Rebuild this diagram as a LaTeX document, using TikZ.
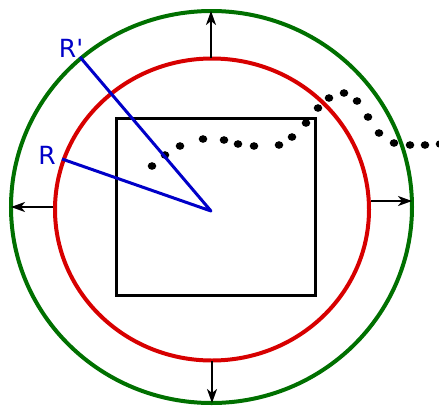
\documentclass[tikz,border=0pt]{standalone}
\usepackage{fontspec}
\setmainfont{DejaVu Sans}
\newfontfamily\lblfont{DejaVu Sans}[Ligatures=TeXOff]
\usetikzlibrary{arrows.meta}
\definecolor{cgreen}{RGB}{0,112,0}
\definecolor{cred}{RGB}{215,0,0}
\definecolor{cblue}{RGB}{0,0,200}
\begin{document}
\begin{tikzpicture}[x=1pt,y=-1pt,
  outer/.style={draw=cgreen,line width=4pt},
  inner/.style={draw=cred,line width=4pt},
  box/.style={draw=black,line width=3pt},
  radius line/.style={draw=cblue,line width=3pt},
  growarrow/.style={draw=black,line width=2pt,-{Stealth[length=14pt,width=10pt,inset=4pt]}},
  dotpt/.style={fill=black},
  lbl/.style={text=cblue,font=\lblfont\fontsize{25}{27}\selectfont,inner sep=0pt}]
\useasboundingbox (0,0) rectangle (439,408);
% circles
\draw[outer] (211.5,207) ellipse [x radius=200.5, y radius=196];
\draw[inner] (212,209.5) ellipse [x radius=157, y radius=151];
% box
\draw[box] (116,118) rectangle (315,295);
% dots
\foreach \x/\y in {152/166,165/155,180/146,203/139,224/140,238/144,254/146,279/145,292/137,306/123,318/108,329/98,344/93,357/101,368/117,379/133,394/143,410/145,425/145,440/144}
  \fill[dotpt] (\x,\y) ellipse [x radius=4.3, y radius=3.8];
% radii
\coordinate (c) at (211,211);
\coordinate (r) at (62,159);
\coordinate (rp) at (80,57);
\draw[radius line,line join=round] (r) -- (c) -- (rp);
\node[lbl,anchor=center] (lR) at (47,155) {R};
\node[lbl,anchor=center] (lRp) at (71,48) {R'};
% arrows
\coordinate (t1) at (211,58); \coordinate (t2) at (211,11);
\coordinate (l1) at (53,207); \coordinate (l2) at (11,207);
\coordinate (rr1) at (371,201); \coordinate (rr2) at (412,201);
\coordinate (b1) at (212,361); \coordinate (b2) at (212,403);
\draw[growarrow] (t1) -- (t2);
\draw[growarrow] (l1) -- (l2);
\draw[growarrow] (rr1) -- (rr2);
\draw[growarrow] (b1) -- (b2);
\end{tikzpicture}
\end{document}
